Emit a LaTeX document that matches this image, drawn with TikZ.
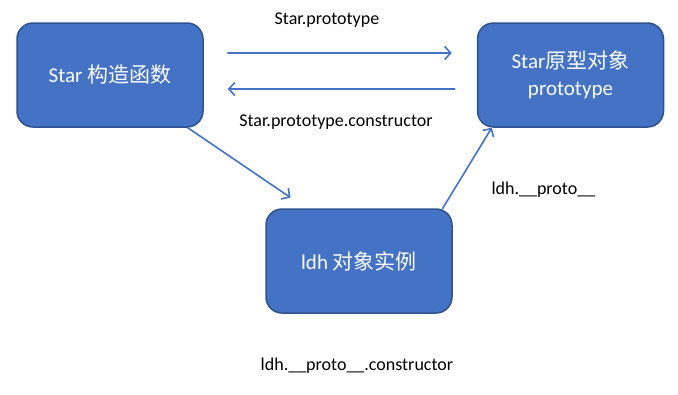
\documentclass[tikz,border=0pt]{standalone}
\usepackage{fontspec}
\setmainfont{Carlito}
\newfontfamily\cjkfont{Noto Sans CJK SC}
\usetikzlibrary{arrows.meta,positioning}
\definecolor{boxblue}{RGB}{68,114,196}
\definecolor{boxedge}{RGB}{47,82,143}
\newcommand{\zh}[1]{{\cjkfont #1}}

\begin{document}
\begin{tikzpicture}[x=1pt,y=-1pt,line cap=round,line join=round,
    objbox/.style={fill=boxblue,draw=boxedge,line width=1.5pt,
        rounded corners=16pt,minimum width=186pt,minimum height=104pt,
        text=white,align=center,font=\fontsize{21}{27}\selectfont},
    link/.style={boxblue,line width=1.6pt,
        -{Straight Barb[length=6pt,width=13pt]}},
    lbl/.style={font=\fontsize{18}{22}\selectfont}]
    \useasboundingbox (0,0) rectangle (678,394);

    % Objetos: constructor, prototipo e instancia
    \node[objbox] (star) at (110,75) {Star \zh{构造函数}};
    \node[objbox] (proto) at (570.5,75) {Star\zh{原型对象}\\prototype};
    \node[objbox] (ldh) at (359,261) {ldh \zh{对象实例}};

    % Etiquetas de las relaciones
    \node[lbl] (lblproto) at (327,20) {Star.prototype};
    \node[lbl] (lblctor) at (336,122) {Star.prototype.constructor};
    \node[lbl,right] (lbldunder) at (488,190) {ldh.\_\_proto\_\_};
    \node[lbl] (lblchain) at (357,366) {ldh.\_\_proto\_\_.constructor};

    % Star <-> prototype
    \draw[link,shorten <=24pt,shorten >=25pt]
        ([yshift=22pt]star.east) -- ([yshift=22pt]proto.west);
    \draw[link,shorten <=22pt,shorten >=24pt]
        ([yshift=-14pt]proto.west) -- ([yshift=-14pt]star.east);

    % new Star -> ldh, ldh.__proto__ -> prototype
    \draw[link,shorten >=19pt]
        ([xshift=-16pt]star.south east) -- ([xshift=41pt]ldh.north west);
    \draw[link]
        ([xshift=-10pt]ldh.north east) -- ([xshift=15pt]proto.south west);
\end{tikzpicture}
\end{document}
